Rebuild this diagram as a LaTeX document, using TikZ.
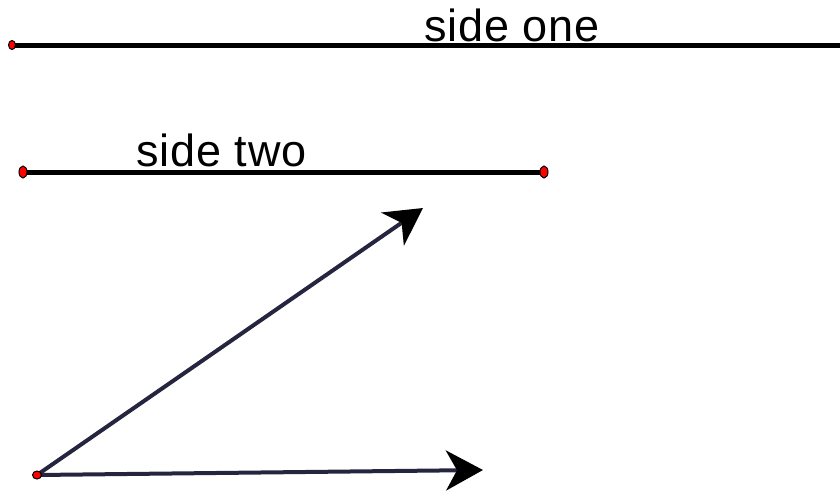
\documentclass[tikz,border=0pt]{standalone}
\usepackage{fontspec}
\setmainfont{Liberation Sans}
\usetikzlibrary{arrows.meta}
\definecolor{navy}{HTML}{25253F}

\begin{document}
\begin{tikzpicture}[x=1pt, y=-1pt,
  every node/.style={font=\fontsize{45}{45}\selectfont\addfontfeatures{LetterSpace=2}, inner sep=0, anchor=base west},
  side/.style={line width=5pt, black},
  ray/.style={line width=4pt, navy, -{Stealth[length=37pt, width=40pt, inset=11pt, color=black]}},
  pt/.style={draw=black, fill=red, line width=1pt}]
\useasboundingbox (0,0) rectangle (840,491);

\coordinate (a1) at (12,45);
\coordinate (a2) at (844,45);
\coordinate (b1) at (23,172);
\coordinate (b2) at (544,172);
\coordinate (o) at (37,475);
\coordinate (p) at (423,208);
\coordinate (q) at (483,470);

\draw[side] (a1) -- (a2);
\draw[side] (b1) -- (b2);
\node (one) at (424,41) {side one};
\node (two) at (136,166) {side two};

\draw[ray] (o) -- (p);
\draw[ray] (o) -- (q);

\draw[pt] (a1) ellipse[x radius=3.5, y radius=4.5];
\draw[pt] (a2) ellipse[x radius=3.5, y radius=4.5];
\draw[pt] (b1) ellipse[x radius=4, y radius=6];
\draw[pt] (b2) ellipse[x radius=4, y radius=6];
\draw[pt] (o) ellipse[x radius=4.5, y radius=4];
\end{tikzpicture}
\end{document}
